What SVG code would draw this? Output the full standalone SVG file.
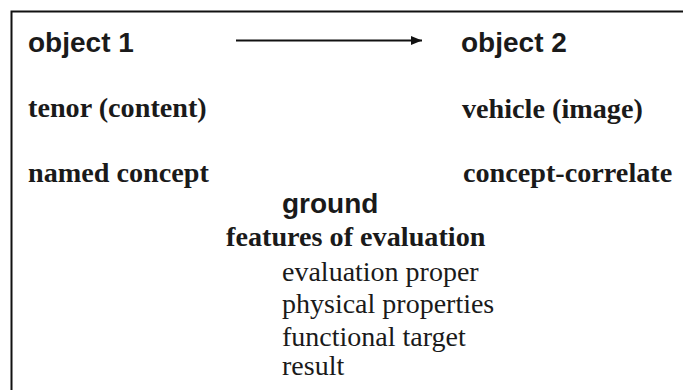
<svg xmlns="http://www.w3.org/2000/svg" width="683" height="390" viewBox="0 0 683 390">
  <style>
    .sans { font-family: "Liberation Sans", Arial, sans-serif; font-weight: bold; font-size: 28px; fill: #1a1a1a; }
    .serifb { font-family: "Liberation Serif", "Times New Roman", serif; font-weight: bold; font-size: 28.2px; fill: #1a1a1a; }
    .serif { font-family: "Liberation Serif", "Times New Roman", serif; font-size: 28px; fill: #1a1a1a; }
    .frame { stroke: #111; stroke-width: 2; fill: none; }
    .conn { stroke: #111; stroke-width: 2; fill: none; }
  </style>
  <defs>
    <marker id="arrow" markerWidth="11" markerHeight="9" refX="11" refY="4.5" orient="auto" markerUnits="userSpaceOnUse">
      <path d="M0,0 L11,4.5 L0,9 Z" fill="#111"/>
    </marker>
  </defs>
  <rect width="683" height="390" fill="#fff"/>
  <path class="frame" d="M11.5,390 L11.5,11.5 L683,11.5"/>
  <g id="connectors">
    <line class="conn" x1="236" y1="40.5" x2="422" y2="40.5" marker-end="url(#arrow)"/>
  </g>
  <g id="object1">
    <text class="sans" x="28" y="52">object 1</text>
    <text class="serifb" x="28" y="117">tenor (content)</text>
    <text class="serifb" x="28" y="182">named concept</text>
  </g>
  <g id="object2">
    <text class="sans" x="461" y="52">object 2</text>
    <text class="serifb" x="462" y="118">vehicle (image)</text>
    <text class="serifb" x="463" y="182">concept-correlate</text>
  </g>
  <g id="ground">
    <text class="sans" x="282" y="213">ground</text>
    <text class="serifb" x="226" y="246">features of evaluation</text>
    <text class="serif" x="282" y="281">evaluation proper</text>
    <text class="serif" x="282" y="313">physical properties</text>
    <text class="serif" x="282" y="346">functional target</text>
    <text class="serif" x="282" y="375">result</text>
  </g>
</svg>
